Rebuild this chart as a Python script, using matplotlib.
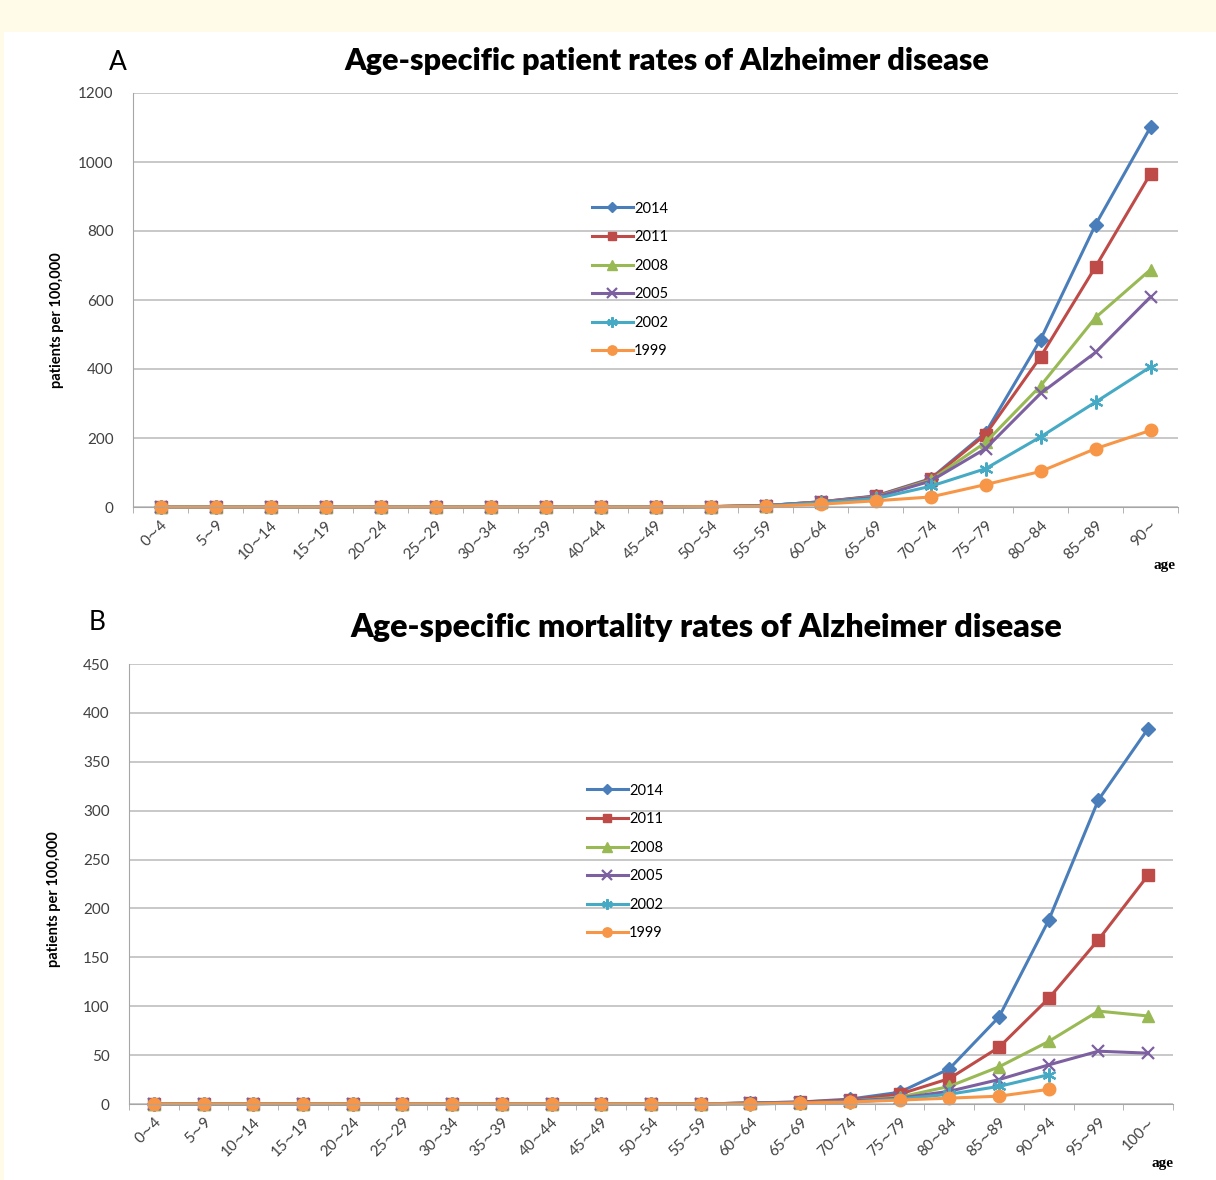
import numpy as np
import matplotlib
matplotlib.use("Agg")
import matplotlib.pyplot as plt
from matplotlib.patches import Rectangle

plt.rcParams['font.family'] = ['Lato', 'DejaVu Sans']

# categorias de idade
idades_a = ["0∼4", "5∼9", "10∼14", "15∼19", "20∼24", "25∼29", "30∼34", "35∼39", "40∼44",
            "45∼49", "50∼54", "55∼59", "60∼64", "65∼69", "70∼74", "75∼79", "80∼84", "85∼89", "90∼"]
idades_b = ["0∼4", "5∼9", "10∼14", "15∼19", "20∼24", "25∼29", "30∼34", "35∼39", "40∼44",
            "45∼49", "50∼54", "55∼59", "60∼64", "65∼69", "70∼74", "75∼79", "80∼84", "85∼89",
            "90∼94", "95∼99", "100∼"]

anos = ["2014", "2011", "2008", "2005", "2002", "1999"]

# A: patient rates
pac_2014 = [0, 0, 0, 0, 0, 0, 0, 0, 0, 0, 1, 4, 15, 32, 82, 215, 485, 818, 1101]
pac_2011 = [0, 0, 0, 0, 0, 0, 0, 0, 0, 0, 1, 4, 15, 31, 80, 210, 435, 696, 966]
pac_2008 = [0, 0, 0, 0, 0, 0, 0, 0, 0, 0, 1, 4, 14, 29, 78, 187, 351, 549, 688]
pac_2005 = [0, 0, 0, 0, 0, 0, 0, 0, 0, 0, 1, 4, 14, 28, 75, 169, 329, 448, 609]
pac_2002 = [0, 0, 0, 0, 0, 0, 0, 0, 0, 0, 1, 3, 12, 24, 60, 111, 203, 304, 406]
pac_1999 = [0, 0, 0, 0, 0, 0, 0, 0, 0, 0, 1, 2, 8, 18, 29, 65, 103, 169, 222]

# B: mortality rates
mort_2014 = [0, 0, 0, 0, 0, 0, 0, 0, 0, 0, 0, 0, 1, 2, 5, 12, 36, 89, 188, 311, 384]
mort_2011 = [0, 0, 0, 0, 0, 0, 0, 0, 0, 0, 0, 0, 1, 2, 4, 10, 26, 58, 108, 168, 234]
mort_2008 = [0, 0, 0, 0, 0, 0, 0, 0, 0, 0, 0, 0, 1, 1, 3, 7, 18, 38, 64, 95, 90]
mort_2005 = [0, 0, 0, 0, 0, 0, 0, 0, 0, 0, 0, 0, 1, 1, 3, 6, 13, 25, 40, 54, 52]
mort_2002 = [0, 0, 0, 0, 0, 0, 0, 0, 0, 0, 0, 0, 0, 1, 2, 5, 10, 18, 30, np.nan, np.nan]
mort_1999 = [0, 0, 0, 0, 0, 0, 0, 0, 0, 0, 0, 0, 0, 1, 2, 4, 6, 8, 15, np.nan, np.nan]

cores = ["#4A7EBB", "#BE4B48", "#98B954", "#7D60A0", "#46AAC5", "#F79646"]
marcadores = ["D", "s", "^", "x", (6, 2, 0), "o"]
tamanhos = [7, 8.5, 9, 9, 10, 9]

fig = plt.figure(figsize=(12.16, 11.8), dpi=100)
fig.patch.set_facecolor("#FFFBE8")
fig.patches.append(Rectangle((4 / 1216, 0), 1, 1 - 32 / 1180, transform=fig.transFigure,
                             facecolor="white", edgecolor="none", zorder=-10))


def painel(ax, idades, series, ymax, ystep, legpos, labpos):
    x = np.arange(len(idades))
    for i, s in enumerate(series):
        mew = 1.6 if i in (3, 4) else 1
        ax.plot(x, s, color=cores[i], marker=marcadores[i], markersize=tamanhos[i],
                markeredgewidth=mew, linewidth=2.2, label=anos[i], clip_on=False)
    ax.set_xlim(-0.5, len(idades) - 0.5)
    ax.set_ylim(0, ymax)
    ax.set_yticks(np.arange(0, ymax + 1, ystep))
    ax.set_xticks(x)
    ax.set_xticklabels(idades, rotation=45, ha="right", rotation_mode="anchor", fontsize=11,
                       color="#404040")
    ax.set_xticks(np.arange(-0.5, len(idades)), minor=True)
    ax.tick_params(axis="x", which="major", length=0, pad=8)
    ax.tick_params(axis="x", which="minor", length=4, color="#A6A6A6")
    ax.tick_params(axis="y", length=0, labelsize=11, pad=14, labelcolor="#404040")
    ax.grid(axis="y", color="#BFBFBF", linewidth=1.2)
    ax.set_axisbelow(True)
    for lado in ["top", "right"]:
        ax.spines[lado].set_visible(False)
    ax.spines["left"].set_color("#A6A6A6")
    ax.spines["bottom"].set_color("#A6A6A6")
    ax.set_ylabel("patients per 100,000", fontsize=10.5, fontweight="bold")
    ax.yaxis.set_label_coords(labpos[0], labpos[1])
    ax.legend(loc="center", bbox_to_anchor=legpos, bbox_transform=fig.transFigure,
              frameon=False, fontsize=10.5, labelspacing=1.0, handlelength=2.8,
              handletextpad=0.1, markerscale=0.75)


ax1 = fig.add_axes([133 / 1216, 1 - 507 / 1180, 1045 / 1216, 414 / 1180])
painel(ax1, idades_a, [pac_2014, pac_2011, pac_2008, pac_2005, pac_2002, pac_1999],
       1200, 200, (630 / 1216, 1 - 280 / 1180), (-0.066, 0.452))

ax2 = fig.add_axes([129 / 1216, 1 - 1104 / 1180, 1044 / 1216, 440 / 1180])
painel(ax2, idades_b, [mort_2014, mort_2011, mort_2008, mort_2005, mort_2002, mort_1999],
       450, 50, (625 / 1216, 1 - 862 / 1180), (-0.065, 0.466))

fig.text(667 / 1216, 1 - 61 / 1180, "Age-specific patient rates of Alzheimer disease",
         ha="center", va="center", fontsize=22, fontweight="heavy")
fig.text(706 / 1216, 1 - 628 / 1180, "Age-specific mortality rates of Alzheimer disease",
         ha="center", va="center", fontsize=23.2, fontweight="heavy")
fig.text(118 / 1216, 1 - 62 / 1180, "A", ha="center", va="center", fontsize=19)
fig.text(97 / 1216, 1 - 622 / 1180, "B", ha="center", va="center", fontsize=19)
fig.text(1165 / 1216, 1 - 565 / 1180, "age", ha="center", va="center", fontsize=11,
         fontweight="bold", family=["Liberation Serif"])
fig.text(1162 / 1216, 1 - 1163 / 1180, "age", ha="center", va="center", fontsize=11,
         fontweight="bold", family=["Liberation Serif"])

fig.savefig("out.png", dpi=100, facecolor=fig.get_facecolor())
